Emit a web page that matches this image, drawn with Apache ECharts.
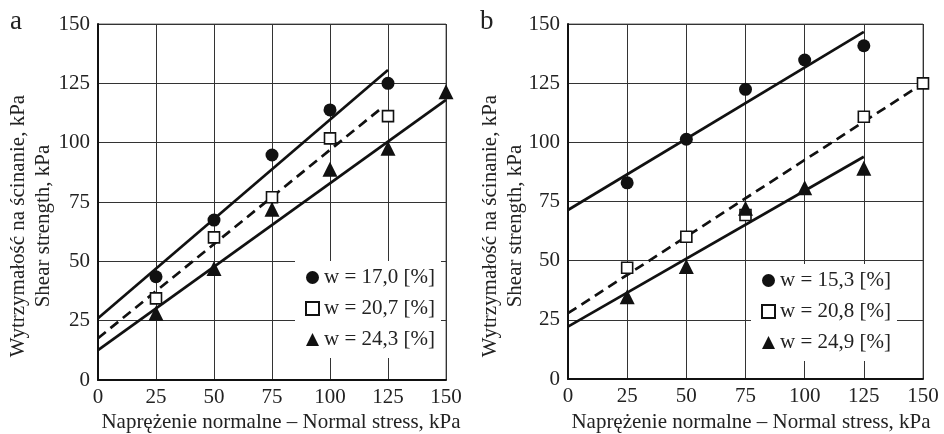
<!DOCTYPE html>
<html><head><meta charset="utf-8">
<script src="https://cdn.jsdelivr.net/npm/echarts@6/dist/echarts.min.js"></script>
<style>html,body{margin:0;padding:0;background:#fff}#c{width:944px;height:434px}</style>
</head><body><div id="c"></div>
<script>
// ---- data ----
const xPts = [25, 50, 75, 100, 125, 150];
// panel a
const namesA = ['w = 17,0 [%]', 'w = 20,7 [%]', 'w = 24,3 [%]'];
const circA = [43.5, 67.4, 94.8, 113.8, 125.0];
const sqA = [34.4, 60.1, 77.0, 101.8, 111.2];
const triA = [28.1, 47.0, 71.9, 88.8, 97.6, 121.5];
const fitCircA = [[0, 26.0], [125, 130.6]];
const fitSqA = [[0, 17.6], [123, 115.2]];
const fitTriA = [[0, 12.6], [150, 118.0]];
// panel b
const namesB = ['w = 15,3 [%]', 'w = 20,8 [%]', 'w = 24,9 [%]'];
const circB = [82.9, 101.3, 122.4, 134.8, 140.8];
const sqBx = [25, 50, 75, 125, 150];
const sqB = [47.0, 60.1, 69.3, 110.8, 124.9];
const triB = [34.8, 47.5, 72.1, 80.8, 89.0];
const fitCircB = [[0, 71.4], [125, 146.7]];
const fitSqB = [[0, 27.8], [150, 124.9]];
const fitTriB = [[0, 22.1], [125, 93.9]];
const panelLetters = ['a', 'b'];
const xTitle = 'Naprężenie normalne – Normal stress, kPa';
const yTitle1 = 'Wytrzymałość na ścinanie, kPa';
const yTitle2 = 'Shear strength, kPa';

// ---- helpers ----
const FONT = 'Liberation Serif';
const FS = 21;
const pairs = (xs, ys) => ys.map((y, i) => [xs[i], y]);
function axisX(gi) {
  return {
    gridIndex: gi, type: 'value', min: 0, max: 150, interval: 25,
    axisLine: { show: true, onZero: false, lineStyle: { color: '#111', width: 2 } },
    axisTick: { show: false },
    axisLabel: { color: '#222', fontSize: FS, fontFamily: FONT, margin: 7 },
    splitLine: { show: true, lineStyle: { color: '#333', width: 1 } }
  };
}
function axisY(gi) {
  return {
    gridIndex: gi, type: 'value', min: 0, max: 150, interval: 25,
    axisLine: { show: true, onZero: false, lineStyle: { color: '#111', width: 2 } },
    axisTick: { show: false },
    axisLabel: { color: '#222', fontSize: FS, fontFamily: FONT, margin: 8 },
    splitLine: { show: true, lineStyle: { color: '#333', width: 1 } }
  };
}
function scatter(gi, name, symbol, data, size, open) {
  return {
    type: 'scatter', name, xAxisIndex: gi, yAxisIndex: gi, symbol, symbolSize: size,
    data, clip: false, z: 5,
    itemStyle: open ? { color: '#fff', borderColor: '#111', borderWidth: 1.6, opacity: 1 }
                    : { color: '#111', opacity: 1 }
  };
}
function fit(gi, data, dashed) {
  return {
    type: 'line', name: 'fit', xAxisIndex: gi, yAxisIndex: gi, data, symbol: 'none',
    lineStyle: { color: '#111', width: 2.7, type: dashed ? [10, 6] : 'solid' }, z: 4,
    silent: true
  };
}
function legend(names, left, top) {
  return {
    data: names, orient: 'vertical', left, top, backgroundColor: '#fff',
    padding: [6, 6, 8, 10], itemGap: 10, itemWidth: 13, itemHeight: 13,
    textStyle: { color: '#222', fontSize: FS, fontFamily: FONT }, selectedMode: false
  };
}
function yTitle(cx, cy) {
  return {
    type: 'text', rotation: Math.PI / 2, x: cx, y: cy,
    style: { text: yTitle1 + '\n' + yTitle2, fill: '#222', font: FS + 'px "' + FONT + '"',
             align: 'center', verticalAlign: 'middle', lineHeight: 25 }
  };
}
function xTitleG(cx, cy) {
  return {
    type: 'text', x: cx, y: cy,
    style: { text: xTitle, fill: '#222', font: '21px "' + FONT + '"',
             align: 'center', verticalAlign: 'middle' }
  };
}

const chart = echarts.init(document.getElementById('c'));
chart.setOption({
  backgroundColor: '#fff',
  animation: false,
  grid: [
    { left: 98, top: 24, width: 348, height: 356, show: true, borderColor: '#666', borderWidth: 1 },
    { left: 568, top: 24, width: 355, height: 355, show: true, borderColor: '#666', borderWidth: 1 }
  ],
  xAxis: [axisX(0), axisX(1)],
  yAxis: [axisY(0), axisY(1)],
  legend: [legend(namesA, 295, 261), legend(namesB, 751, 264)],
  graphic: [
    yTitle(31, 226), yTitle(503, 226),
    xTitleG(281, 422), xTitleG(751, 422),
    { type: 'text', x: 10, y: 8, style: { text: panelLetters[0], fill: '#222', font: '27px "' + FONT + '"' } },
    { type: 'text', x: 480, y: 8, style: { text: panelLetters[1], fill: '#222', font: '27px "' + FONT + '"' } }
  ],
  series: [
    fit(0, fitCircA, false), fit(0, fitSqA, true), fit(0, fitTriA, false),
    scatter(0, namesA[0], 'circle', pairs(xPts, circA), 13, false),
    scatter(0, namesA[1], 'rect', pairs(xPts, sqA), 11, true),
    scatter(0, namesA[2], 'triangle', pairs(xPts, triA), 15, false),
    fit(1, fitCircB, false), fit(1, fitSqB, true), fit(1, fitTriB, false),
    scatter(1, namesB[0], 'circle', pairs(xPts, circB), 13, false),
    scatter(1, namesB[1], 'rect', pairs(sqBx, sqB), 11, true),
    scatter(1, namesB[2], 'triangle', pairs(xPts, triB), 15, false)
  ]
});
</script></body></html>
